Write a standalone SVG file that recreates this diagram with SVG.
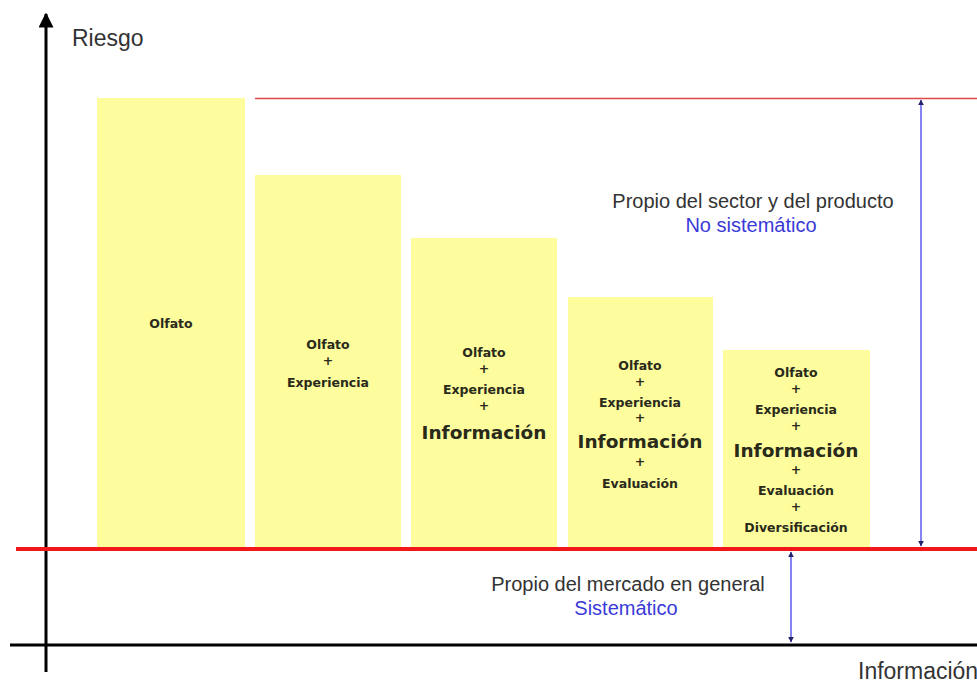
<svg xmlns="http://www.w3.org/2000/svg" width="977" height="680" viewBox="0 0 977 680">
<defs>
<style>
.bar{fill:#fdfd9e;}
.bt{font-family:"DejaVu Sans",Verdana,sans-serif;font-size:12.5px;font-weight:bold;fill:#2a2a1a;text-anchor:middle;}
.big{font-size:18.5px;}
.lbl{font-family:"Liberation Sans",Arial,sans-serif;font-size:20px;fill:#333;text-anchor:middle;}
.blue{fill:#3a3ad8;}
.ax{font-family:"Liberation Sans",Arial,sans-serif;font-size:23px;fill:#333;}
</style>
<marker id="ah" viewBox="0 0 10 10" refX="9" refY="5" markerWidth="5" markerHeight="5" orient="auto-start-reverse"><path d="M0,0L10,5L0,10z" fill="#000"/></marker>
<marker id="bh" viewBox="0 0 10 10" refX="9" refY="5" markerWidth="3" markerHeight="3" orient="auto-start-reverse"><path d="M0,0L10,5L0,10z" fill="#22226a"/></marker>
</defs>
<rect width="977" height="680" fill="#fff"/>
<g id="connectors">
<line x1="46" y1="672" x2="46" y2="14" stroke="#000" stroke-width="3" marker-end="url(#ah)"/>
<line x1="10" y1="645" x2="977" y2="645" stroke="#000" stroke-width="3"/>
<line x1="255" y1="98.5" x2="977" y2="98.5" stroke="#e04848" stroke-width="1.3"/>
<line x1="16" y1="549" x2="977" y2="549" stroke="#f01818" stroke-width="4"/>
<line x1="921" y1="100" x2="921" y2="546" stroke="#8484f0" stroke-width="2" marker-start="url(#bh)" marker-end="url(#bh)"/>
<line x1="791" y1="552" x2="791" y2="642" stroke="#8484f0" stroke-width="2" marker-start="url(#bh)" marker-end="url(#bh)"/>
</g>
<g id="axis-labels">
<text class="ax" x="72" y="46">Riesgo</text>
<text class="ax" x="858" y="679">Información</text>
</g>
<g id="bar1">
<rect class="bar" x="97" y="98" width="148" height="449"/>
<text class="bt" x="171" y="328">Olfato</text>
</g>
<g id="bar2">
<rect class="bar" x="255" y="175" width="146" height="372"/>
<text class="bt" x="328" y="349">Olfato</text>
<text class="bt" x="328" y="365">+</text>
<text class="bt" x="328" y="387">Experiencia</text>
</g>
<g id="bar3">
<rect class="bar" x="411" y="238" width="146" height="309"/>
<text class="bt" x="484" y="357">Olfato</text>
<text class="bt" x="484" y="373">+</text>
<text class="bt" x="484" y="394">Experiencia</text>
<text class="bt" x="484" y="410">+</text>
<text class="bt big" x="484" y="439">Información</text>
</g>
<g id="bar4">
<rect class="bar" x="568" y="297" width="145" height="250"/>
<text class="bt" x="640" y="370">Olfato</text>
<text class="bt" x="640" y="386">+</text>
<text class="bt" x="640" y="407">Experiencia</text>
<text class="bt" x="640" y="422">+</text>
<text class="bt big" x="640" y="448">Información</text>
<text class="bt" x="640" y="466">+</text>
<text class="bt" x="640" y="488">Evaluación</text>
</g>
<g id="bar5">
<rect class="bar" x="723" y="350" width="147" height="197"/>
<text class="bt" x="796" y="377">Olfato</text>
<text class="bt" x="796" y="393">+</text>
<text class="bt" x="796" y="414">Experiencia</text>
<text class="bt" x="796" y="430">+</text>
<text class="bt big" x="796" y="457">Información</text>
<text class="bt" x="796" y="474">+</text>
<text class="bt" x="796" y="495">Evaluación</text>
<text class="bt" x="796" y="511">+</text>
<text class="bt" x="796" y="532">Diversificación</text>
</g>
<g id="label-nosist">
<text class="lbl" x="753" y="208">Propio del sector y del producto</text>
<text class="lbl blue" x="751" y="232">No sistemático</text>
</g>
<g id="label-sist">
<text class="lbl" x="628" y="591">Propio del mercado en general</text>
<text class="lbl blue" x="626" y="615">Sistemático</text>
</g>
</svg>
